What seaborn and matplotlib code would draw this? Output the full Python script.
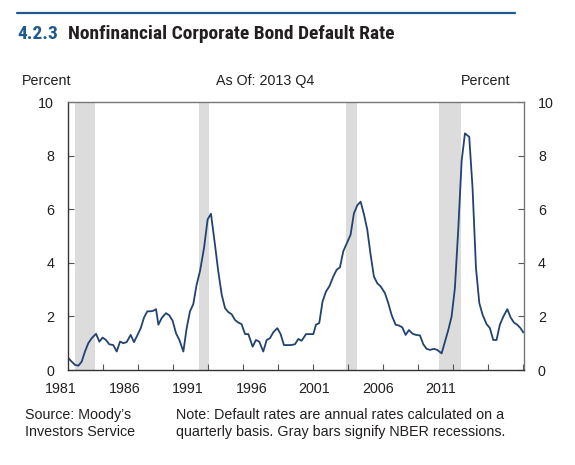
import numpy as np
import pandas as pd
import matplotlib.pyplot as plt
import seaborn as sns
from matplotlib.lines import Line2D

OUTPUT_PATH = "out.png"

# decimal year positions and default rate (percent)
years = [
    1981.00, 1981.27, 1981.51, 1981.75, 1981.99, 1982.23, 1982.47, 1982.72,
    1983.03, 1983.27, 1983.51, 1983.75, 1983.99, 1984.28, 1984.53, 1984.77,
    1985.01, 1985.25, 1985.54, 1985.78, 1986.02, 1986.27, 1986.51, 1986.75,
    1986.99, 1987.18, 1987.38, 1987.55, 1987.79, 1988.10, 1988.34, 1988.58,
    1988.83, 1989.07, 1989.36, 1989.60, 1989.84, 1990.08, 1990.32, 1990.57,
    1990.86, 1991.12, 1991.36, 1991.65, 1991.89, 1992.14, 1992.38, 1992.62,
    1992.86, 1993.10, 1993.34, 1993.58, 1993.83, 1994.07, 1994.38, 1994.62,
    1994.86, 1995.15, 1995.40, 1995.64, 1995.88, 1996.17, 1996.41, 1996.65,
    1996.89, 1997.14, 1997.45, 1997.69, 1997.93, 1998.25, 1998.49, 1998.78,
    1998.97, 1999.21, 1999.45, 1999.70, 1999.94, 2000.23, 2000.47, 2000.71,
    2000.95, 2001.27, 2001.48, 2001.72, 2001.97, 2002.21, 2002.45, 2002.69,
    2002.93, 2003.17, 2003.41, 2003.66, 2003.97, 2004.21, 2004.45, 2004.74,
    2004.99, 2005.23, 2005.47, 2005.71, 2005.98, 2006.22, 2006.51, 2006.75,
    2006.99, 2007.23, 2007.52, 2007.76, 2008.08, 2008.32, 2008.56, 2008.80,
    2009.04, 2009.29, 2009.53, 2009.77, 2010.08, 2010.32, 2010.57, 2010.81,
    2011.05, 2011.34, 2011.58, 2011.82, 2012.06, 2012.30, 2012.55, 2012.84,
    2013.08, 2013.32, 2013.56, 2013.80, 2014.00,
]
default_rate = [
    0.46, 0.31, 0.19, 0.16, 0.31, 0.69, 1.00, 1.19,
    1.35, 1.06, 1.21, 1.12, 0.96, 0.93, 0.69, 1.06,
    1.00, 1.04, 1.31, 1.04, 1.29, 1.56, 1.96, 2.19,
    2.19, 2.21, 2.27, 1.69, 1.94, 2.12, 2.04, 1.84,
    1.37, 1.12, 0.69, 1.56, 2.19, 2.46, 3.18, 3.70,
    4.56, 5.62, 5.83, 4.68, 3.68, 2.81, 2.31, 2.16,
    2.08, 1.87, 1.77, 1.71, 1.34, 1.34, 0.87, 1.12,
    1.06, 0.69, 1.12, 1.19, 1.41, 1.56, 1.34, 0.93,
    0.93, 0.93, 0.96, 1.16, 1.09, 1.34, 1.34, 1.34,
    1.69, 1.75, 2.56, 2.93, 3.12, 3.49, 3.74, 3.83,
    4.43, 4.80, 5.05, 5.84, 6.15, 6.28, 5.81, 5.24,
    4.31, 3.49, 3.24, 3.12, 2.87, 2.50, 2.06, 1.69,
    1.66, 1.59, 1.31, 1.49, 1.35, 1.31, 1.29, 0.96,
    0.79, 0.75, 0.79, 0.75, 0.62, 1.06, 1.49, 1.99,
    3.05, 5.30, 7.80, 8.83, 8.70, 6.80, 3.80, 2.50,
    2.06, 1.71, 1.56, 1.12, 1.12, 1.69, 1.99, 2.27,
    1.96, 1.77, 1.69, 1.56, 1.40,
]

# NBER recessions (start, end) in decimal years
recession_start = [1981.50, 1990.50, 2001.17, 2007.92]
recession_end = [1982.92, 1991.25, 2001.92, 2009.50]

year_labels = ["1981", "1986", "1991", "1996", "2001", "2006", "2011"]
# where the year labels sit on the original chart (decimal years)
year_label_pos = [1980.49, 1985.13, 1989.70, 1994.33, 1998.83, 2003.46, 2008.03]

LINE_COLOR = "#22426f"
BLUE = "#1f5a8f"
TEXT = "#231f20"
FS = 10.3


def main():
    sns.set_theme(style="white")
    plt.rcParams["font.family"] = ["Liberation Sans", "DejaVu Sans"]

    df = pd.DataFrame({"year": years, "rate": default_rate})

    fig = plt.figure(figsize=(5.75, 4.65), dpi=100)
    ax = fig.add_axes([0.1183, 0.2043, 0.793, 0.5763])

    for s, e in zip(recession_start, recession_end):
        ax.axvspan(s, e, color="#dcdcdd", lw=0, zorder=0)

    sns.lineplot(data=df, x="year", y="rate", color=LINE_COLOR, lw=1.3, ax=ax)

    ax.set_xlim(1981.0, 2014.05)
    ax.set_ylim(0, 10)
    ax.set_xlabel("")
    ax.set_ylabel("")

    ax.set_yticks(range(0, 11, 2))
    ax.tick_params(axis="y", direction="in", length=4, width=0.8, color="#555555",
                   left=True, right=True, labelleft=True, labelright=True,
                   labelsize=FS, labelcolor=TEXT, pad=10)
    ax.set_xticks(1981 + np.arange(1, 14) * 33 / 13)
    ax.set_xticklabels([])
    ax.tick_params(axis="x", direction="in", length=4, width=0.8, color="#555555",
                   bottom=True)

    for side in ["left", "bottom"]:
        ax.spines[side].set_color("#333333")
        ax.spines[side].set_linewidth(1.0)
    for side in ["top", "right"]:
        ax.spines[side].set_color("#777777")
        ax.spines[side].set_linewidth(1.0)

    for pos, lab in zip(year_label_pos, year_labels):
        ax.text(pos, -0.045, lab, transform=ax.get_xaxis_transform(),
                ha="center", va="top", fontsize=FS, color=TEXT, clip_on=False)

    # header
    fig.add_artist(Line2D([17 / 575, 515 / 575], [1 - 13 / 465, 1 - 13 / 465],
                          color=BLUE, lw=1.6))
    title_family = ["Roboto Condensed", "DejaVu Sans"]
    fig.text(17 / 575, 1 - 34 / 465, "4.2.3", fontsize=14, fontweight="bold",
             color=BLUE, va="center", ha="left", family=title_family)
    fig.text(68 / 575, 1 - 34 / 465, "Nonfinancial Corporate Bond Default Rate",
             fontsize=14, fontweight="bold", color=TEXT, va="center", ha="left",
             family=title_family)

    fig.text(22 / 575, 1 - 81 / 465, "Percent", fontsize=FS, color=TEXT,
             va="center", ha="left")
    fig.text(510 / 575, 1 - 81 / 465, "Percent", fontsize=FS, color=TEXT,
             va="center", ha="right")
    fig.text(265 / 575, 1 - 81 / 465, "As Of: 2013 Q4", fontsize=FS, color=TEXT,
             va="center", ha="center")

    # footer
    fig.text(25 / 575, 1 - 408 / 465, "Source: Moody\u2019s\nInvestors Service",
             fontsize=FS, color=TEXT, va="top", ha="left", linespacing=1.25)
    fig.text(176 / 575, 1 - 408 / 465,
             "Note: Default rates are annual rates calculated on a\n"
             "quarterly basis. Gray bars signify NBER recessions.",
             fontsize=FS, color=TEXT, va="top", ha="left", linespacing=1.25)

    fig.savefig(OUTPUT_PATH, dpi=100)
    plt.close(fig)


if __name__ == "__main__":
    main()
